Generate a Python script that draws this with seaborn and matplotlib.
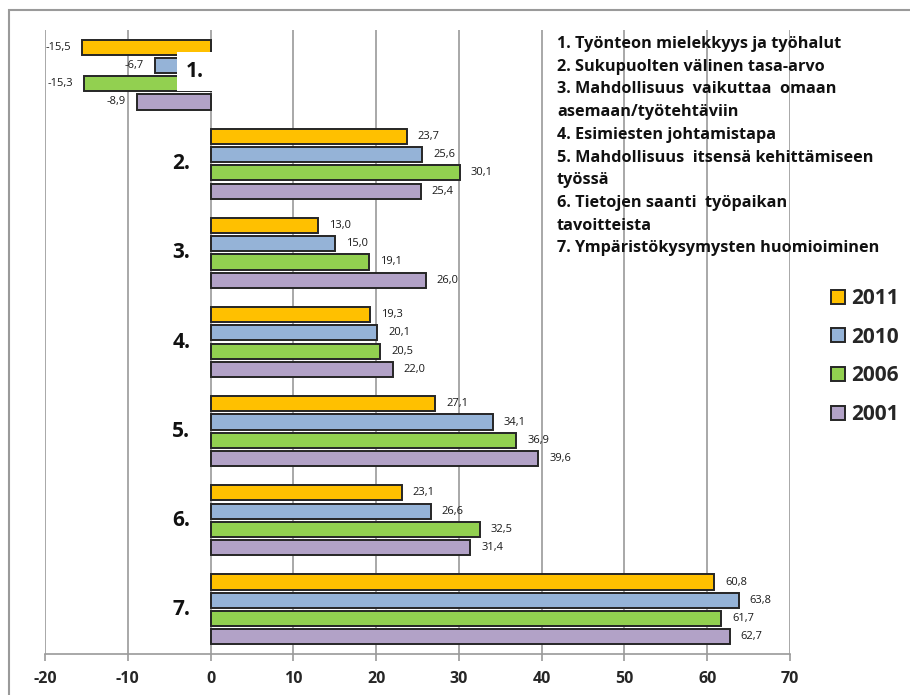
import matplotlib
matplotlib.use("Agg")
import matplotlib.pyplot as plt
from matplotlib.patches import Rectangle, Patch
import seaborn as sns
import pandas as pd

# Survey items (numbered groups) and yearly results
items = ["1.", "2.", "3.", "4.", "5.", "6.", "7."]
years = ["2011", "2010", "2006", "2001"]
v2011 = [-15.5, 23.7, 13.0, 19.3, 27.1, 23.1, 60.8]
v2010 = [-6.7, 25.6, 15.0, 20.1, 34.1, 26.6, 63.8]
v2006 = [-15.3, 30.1, 19.1, 20.5, 36.9, 32.5, 61.7]
v2001 = [-8.9, 25.4, 26.0, 22.0, 39.6, 31.4, 62.7]
year_colors = ["#FFC000", "#95B3D7", "#92D050", "#B2A2C7"]

item_texts = [
    "1. Työnteon mielekkyys ja työhalut",
    "2. Sukupuolten välinen tasa-arvo",
    "3. Mahdollisuus  vaikuttaa  omaan",
    "asemaan/työtehtäviin",
    "4. Esimiesten johtamistapa",
    "5. Mahdollisuus  itsensä kehittämiseen",
    "työssä",
    "6. Tietojen saanti  työpaikan",
    "tavoitteista",
    "7. Ympäristökysymysten huomioiminen",
]
x_ticks = [-20, -10, 0, 10, 20, 30, 40, 50, 60, 70]

series = {"2011": v2011, "2010": v2010, "2006": v2006, "2001": v2001}
df = pd.DataFrame(
    [(it, yr, val) for yr, vals in series.items() for it, val in zip(items, vals)],
    columns=["item", "year", "value"],
)

sns.set_theme(style="white")
FONT = ["Open Sans", "DejaVu Sans"]
plt.rcParams["font.family"] = FONT

W, H = 910, 695
fig = plt.figure(figsize=(W / 100, H / 100), dpi=100)
ax = fig.add_axes([45 / W, 1 - 654 / H, (790 - 45) / W, (654 - 30) / H])

sns.barplot(
    data=df, x="value", y="item", hue="year", hue_order=years, order=items,
    orient="h", palette=year_colors, saturation=1, width=0.82, gap=0.17,
    edgecolor="#262626", linewidth=1.4, ax=ax, legend=False, zorder=3,
)

ax.set_xlim(-20, 70)
ax.set_ylim(len(items) - 0.5, -0.5)
ax.set_xticks(x_ticks)
ax.set_xticklabels([str(t) for t in x_ticks], fontsize=11.5, fontweight="bold")
ax.set_yticks([])
ax.set_xlabel("")
ax.set_ylabel("")
ax.grid(False)
for t in x_ticks:
    ax.axvline(t, color="#9a9a9a", lw=1.2, zorder=1)
for side in ["top", "right", "left"]:
    ax.spines[side].set_visible(False)
ax.spines["bottom"].set_color("#9a9a9a")
ax.spines["bottom"].set_linewidth(1.2)
ax.tick_params(axis="x", direction="out", length=5, width=1.2, color="#9a9a9a",
               pad=7, bottom=True)

# Value labels with comma decimals
for cont, yr in zip(ax.containers, years):
    labels = [f"{v:.1f}".replace(".", ",") for v in series[yr]]
    ax.bar_label(cont, labels=labels, padding=8, fontsize=8, color="#1a1a1a")

# Group numbers left of the zero line
for i, it in enumerate(items):
    if i == 0:
        ax.annotate(it, xy=(0, i), xytext=(-7, 3), textcoords="offset pixels",
                    ha="right", va="center", fontsize=15, fontweight="bold",
                    color="#111111", zorder=5,
                    bbox=dict(boxstyle="square,pad=0.42", fc="white", ec="none"))
    else:
        ax.annotate(it, xy=(0, i), xytext=(-20, 0), textcoords="offset pixels",
                    ha="right", va="center", fontsize=15, fontweight="bold",
                    color="#111111", zorder=5)

# Item descriptions
for k, line in enumerate(item_texts):
    fig.text(557 / W, 1 - (44 + k * 22.7) / H, line, ha="left", va="center",
             fontsize=11.7, fontweight="bold", color="#111111")

# Year legend
handles = [Patch(facecolor=c, edgecolor="#262626", linewidth=1.4) for c in year_colors]
fig.legend(handles, years, loc="upper left", bbox_to_anchor=(831 / W, 1 - 288 / H),
           frameon=False, borderpad=0, borderaxespad=0,
           handlelength=0.65, handleheight=0.65, handletextpad=0.3,
           labelspacing=0.85, prop=dict(weight="bold", size=15, family=FONT))

# Chart frame
fig.add_artist(Rectangle((9 / W, -0.05), 1.1, 1 - 10 / H + 0.05, transform=fig.transFigure,
                         fill=False, ec="#9a9a9a", lw=1.5))

fig.savefig("out.png", dpi=100)
